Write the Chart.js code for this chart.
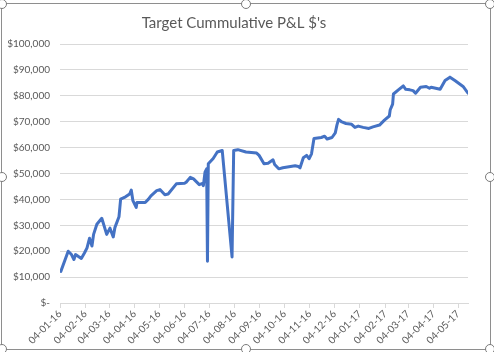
<!DOCTYPE html>
<html>
<head>
<meta charset="utf-8">
<script src="https://cdn.jsdelivr.net/npm/chart.js@4.4.0/dist/chart.umd.min.js"></script>
<style>
  html, body { margin: 0; padding: 0; background: #fff; }
  #wrap { position: relative; width: 494px; height: 352px; overflow: hidden; }
  #frame { position: absolute; left: 1px; top: 3px; width: 488px; height: 345px; border: 1px solid #8e8e8e; pointer-events: none; }
  .handle { position: absolute; width: 8px; height: 8px; border: 1.5px solid #7a7a7a; border-radius: 50%; background: #fff; pointer-events: none; }
</style>
</head>
<body>
<div id="wrap">
  <canvas id="pnlChart" width="494" height="352"></canvas>
  <div id="frame"></div>
</div>
<script>
// month tick labels on the date axis (dd-mm-yy)
const xTickLabels = ['04-01-16', '04-02-16', '04-03-16', '04-04-16', '04-05-16', '04-06-16',
  '04-07-16', '04-08-16', '04-09-16', '04-10-16', '04-11-16', '04-12-16',
  '04-01-17', '04-02-17', '04-03-17', '04-04-17', '04-05-17'];

// dates of the readings
const dates = [
  '2016-01-05', '2016-01-14', '2016-01-18', '2016-01-21', '2016-01-23', '2016-01-30',
  '2016-02-03', '2016-02-06', '2016-02-09', '2016-02-12', '2016-02-14', '2016-02-18',
  '2016-02-24', '2016-03-01', '2016-03-05', '2016-03-09', '2016-03-11', '2016-03-16',
  '2016-03-18', '2016-03-24', '2016-03-29', '2016-03-31', '2016-04-02', '2016-04-06',
  '2016-04-07', '2016-04-17', '2016-04-21', '2016-04-24', '2016-05-01', '2016-05-05',
  '2016-05-11', '2016-05-15', '2016-05-25', '2016-06-04', '2016-06-06', '2016-06-11',
  '2016-06-15', '2016-06-22', '2016-06-26', '2016-06-27', '2016-06-29', '2016-07-01',
  '2016-07-02', '2016-07-03', '2016-07-09', '2016-07-14', '2016-07-20', '2016-08-01',
  '2016-08-03', '2016-08-08', '2016-08-18', '2016-08-31', '2016-09-03', '2016-09-09',
  '2016-09-14', '2016-09-20', '2016-09-22', '2016-09-27', '2016-10-02', '2016-10-17',
  '2016-10-21', '2016-10-23', '2016-10-27', '2016-10-31', '2016-11-03', '2016-11-06',
  '2016-11-09', '2016-11-18', '2016-11-22', '2016-11-25', '2016-12-01', '2016-12-05',
  '2016-12-07', '2016-12-09', '2016-12-13', '2016-12-18', '2016-12-25', '2016-12-29',
  '2017-01-02', '2017-01-08', '2017-01-15', '2017-01-20', '2017-01-28', '2017-02-03',
  '2017-02-09', '2017-02-10', '2017-02-13', '2017-02-14', '2017-02-20', '2017-02-26',
  '2017-03-01', '2017-03-06', '2017-03-10', '2017-03-13', '2017-03-19', '2017-03-26',
  '2017-03-30', '2017-04-01', '2017-04-12', '2017-04-18', '2017-04-24', '2017-04-30',
  '2017-05-10', '2017-05-16'
];

// cumulative P&L in dollars
const pnl = [
  12200, 20000, 18700, 16800, 18700, 17200,
  19400, 21300, 25000, 22000, 26500, 30400,
  32700, 26500, 28900, 25500, 29100, 33300,
  40100, 41000, 42100, 43600, 39500, 36900,
  38800, 38800, 40100, 41400, 43400, 43800,
  41800, 42100, 46000, 46200, 46600, 48500,
  47900, 45700, 46200, 45300, 50500, 51800,
  16100, 53800, 55800, 58300, 58900, 17800,
  58900, 59200, 58300, 57900, 57000, 53800,
  54000, 55300, 53500, 51800, 52200, 53000,
  52700, 52200, 56100, 57000, 55700, 57600,
  63500, 63900, 64400, 63300, 63900, 65700,
  68700, 70900, 69900, 69300, 69000, 67800,
  68300, 67800, 67400, 68000, 68700, 70600,
  72200, 74500, 76800, 80700, 82300, 83800,
  82500, 82300, 82000, 81000, 83300, 83600,
  82900, 83300, 82500, 85900, 87200, 85900,
  83600, 81000
];

const yMax = 100000;
const yStep = 10000;

// day number from y/m/d
function dayOf(y, m, d) {
  return Date.UTC(y, m - 1, d) / 86400000;
}

function isoDay(s) {
  const p = s.split('-').map(Number);
  return dayOf(p[0], p[1], p[2]);
}

function tickDay(s) {
  const p = s.split('-').map(Number);
  return dayOf(2000 + p[2], p[1], p[0]);
}

const tickDays = xTickLabels.map(tickDay);
const labelByDay = {};
tickDays.forEach((d, i) => { labelByDay[d] = xTickLabels[i]; });

const points = dates.map((s, i) => ({ x: isoDay(s), y: pnl[i] }));

const grey = '#595959';
const font = 'Lato, "Open Sans", sans-serif';

window.onload = function() {
  const ctx = document.getElementById('pnlChart').getContext('2d');
  new Chart(ctx, {
    type: 'line',
    data: {
      datasets: [{
        label: 'Cumulative P&L',
        data: points,
        borderColor: '#4472C4',
        borderWidth: 3,
        pointRadius: 0,
        tension: 0,
        borderJoinStyle: 'round',
        borderCapStyle: 'round'
      }]
    },
    options: {
      responsive: false,
      animation: false,
      devicePixelRatio: 1,
      layout: { padding: { left: 0, right: 26, top: 0, bottom: 0 } },
      plugins: {
        legend: { display: false },
        tooltip: { enabled: false },
        title: {
          display: true,
          text: "Target Cummulative P&L $'s",
          color: grey,
          font: { family: font, size: 15, weight: 'normal' },
          padding: { top: 14, bottom: 12 }
        }
      },
      scales: {
        x: {
          type: 'linear',
          min: tickDays[0],
          max: points[points.length - 1].x,
          afterBuildTicks: function(scale) {
            scale.ticks = tickDays.map(v => ({ value: v }));
          },
          afterFit: function(scale) { scale.height = 49; },
          ticks: {
            color: grey,
            font: { family: font, size: 10 },
            minRotation: 45,
            maxRotation: 45,
            autoSkip: false,
            padding: 0,
            callback: function(v) { return labelByDay[v] || ''; }
          },
          grid: {
            drawOnChartArea: false,
            drawTicks: true,
            tickLength: 5,
            color: '#d9d9d9'
          },
          border: { color: '#d9d9d9', width: 1 }
        },
        y: {
          min: 0,
          max: yMax,
          afterFit: function(scale) { scale.width = 60; },
          ticks: {
            stepSize: yStep,
            color: grey,
            font: { family: font, size: 10 },
            padding: 10,
            callback: function(v) { return v === 0 ? '$-' : '$' + v.toLocaleString('en-US'); }
          },
          grid: { color: '#d9d9d9', drawTicks: false },
          border: { display: false }
        }
      }
    }
  });

  // selection handles on the chart frame
  const wrap = document.getElementById('wrap');
  [[2, 4], [246, 4], [490, 4], [2, 177], [490, 177], [2, 349], [246, 349], [490, 349]].forEach(function(c) {
    const h = document.createElement('div');
    h.className = 'handle';
    h.style.left = (c[0] - 5.5) + 'px';
    h.style.top = (c[1] - 5.5) + 'px';
    wrap.appendChild(h);
  });
};
</script>
</body>
</html>
